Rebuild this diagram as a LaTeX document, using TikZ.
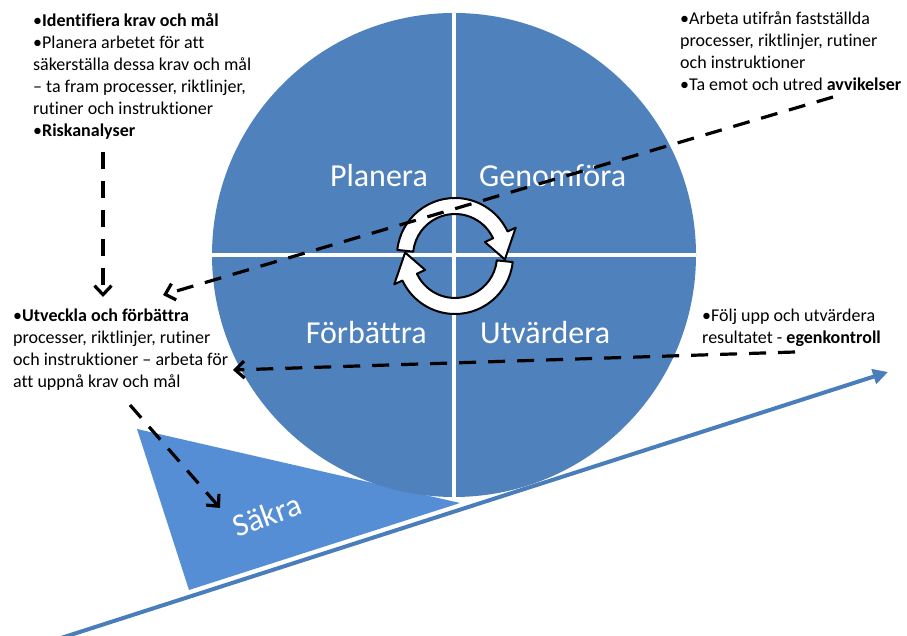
\documentclass[tikz,border=0pt]{standalone}
\usepackage{fontspec}
\setmainfont{Carlito}[Ligatures={NoCommon,NoContextual}]
\usetikzlibrary{arrows.meta}
\definecolor{circblue}{HTML}{4F81BD}
\definecolor{triblue}{HTML}{558ED5}
\definecolor{lineblue}{HTML}{4A7EBB}
\newcommand\blocklines[1]{\vtop{#1}}
\begin{document}
\begin{tikzpicture}[x=1pt,y=1pt,
  body/.style={anchor=base west, inner sep=0pt, font=\fontsize{18}{22}\selectfont, text=black},
  quad/.style={inner sep=0pt, font=\fontsize{32}{38}\selectfont, text=white},
  dasharrow/.style={draw=black, line width=3.2pt, dash pattern=on 17pt off 12pt,
    -{Straight Barb[length=9pt,width=17pt,line width=3.2pt]}},
  cyc/.style={fill=white, draw=black, line width=2pt, line join=round}]
\useasboundingbox (0,0) rectangle (907,636);
% wedge
\fill[triblue] (137,207) -- (189,46) -- (460,133) -- cycle;
% rising line
\coordinate (ls) at (58,-3);
\coordinate (le) at (888,264);
\draw[lineblue, line width=4pt, -{Triangle[length=15pt,width=15pt]}] (ls) -- (le);
% circle
\fill[circblue] (454,381) circle[radius=242];
\draw[white,line width=4pt] (454,139) -- (454,623);
\draw[white,line width=4pt] (212,381) -- (696,381);
% quadrant labels
\node[quad, anchor=base east] (pl) at (428,449) {Planera};
\node[quad, anchor=base west] (ge) at (479,449) {Genomföra};
\node[quad, anchor=base east] (fo) at (427,292) {Förbättra};
\node[quad, anchor=base west] (ut) at (480,292) {Utvärdera};
\node[quad, rotate=20] (sa) at (267,121) {Säkra};
% cycle arrows
\begin{scope}[shift={(455,380)}]
\path[cyc] (174:58) arc[start angle=174,end angle=25,radius=58] -- (25:67) -- (-4:50) -- (25:33) -- (25:42) arc[start angle=25,end angle=174,radius=42] -- cycle;
\path[cyc, rotate=180] (174:58) arc[start angle=174,end angle=25,radius=58] -- (25:67) -- (-4:50) -- (25:33) -- (25:42) arc[start angle=25,end angle=174,radius=42] -- cycle;
\end{scope}
% text blocks
\node[body] (tl) at (33,609) {\blocklines{%
\hbox{•\textbf{Identifiera krav och mål}}
\hbox{•Planera arbetet för att}
\hbox{säkerställa dessa krav och mål}
\hbox{– ta fram processer, riktlinjer,}
\hbox{rutiner och instruktioner}
\hbox{•\textbf{Riskanalyser}}}};
\node[body] (tr) at (680,611) {\blocklines{%
\hbox{•Arbeta utifrån fastställda}
\hbox{processer, riktlinjer, rutiner}
\hbox{och instruktioner}
\hbox{•Ta emot och utred \textbf{avvikelser}}}};
\node[body] (lm) at (13,314) {\blocklines{%
\hbox{•\textbf{Utveckla och förbättra}}
\hbox{processer, riktlinjer, rutiner}
\hbox{och instruktioner – arbeta för}
\hbox{att uppnå krav och mål}}};
\node[body] (rm) at (702,314) {\blocklines{%
\hbox{•Följ upp och utvärdera}
\hbox{resultatet - \textbf{egenkontroll}}}};
% dashed connectors
\coordinate (a1s) at (103,484);
\coordinate (a1e) at (103,339);
\coordinate (a2s) at (833,539);
\coordinate (a2e) at (163,341);
\coordinate (a3s) at (795,284);
\coordinate (a3e) at (233,266);
\coordinate (a4s) at (130,231);
\coordinate (a4e) at (220,128);
\draw[dasharrow] (a1s) -- (a1e);
\draw[dasharrow] (a2s) -- (a2e);
\draw[dasharrow] (a3s) -- (a3e);
\draw[dasharrow] (a4s) -- (a4e);
\end{tikzpicture}
\end{document}
